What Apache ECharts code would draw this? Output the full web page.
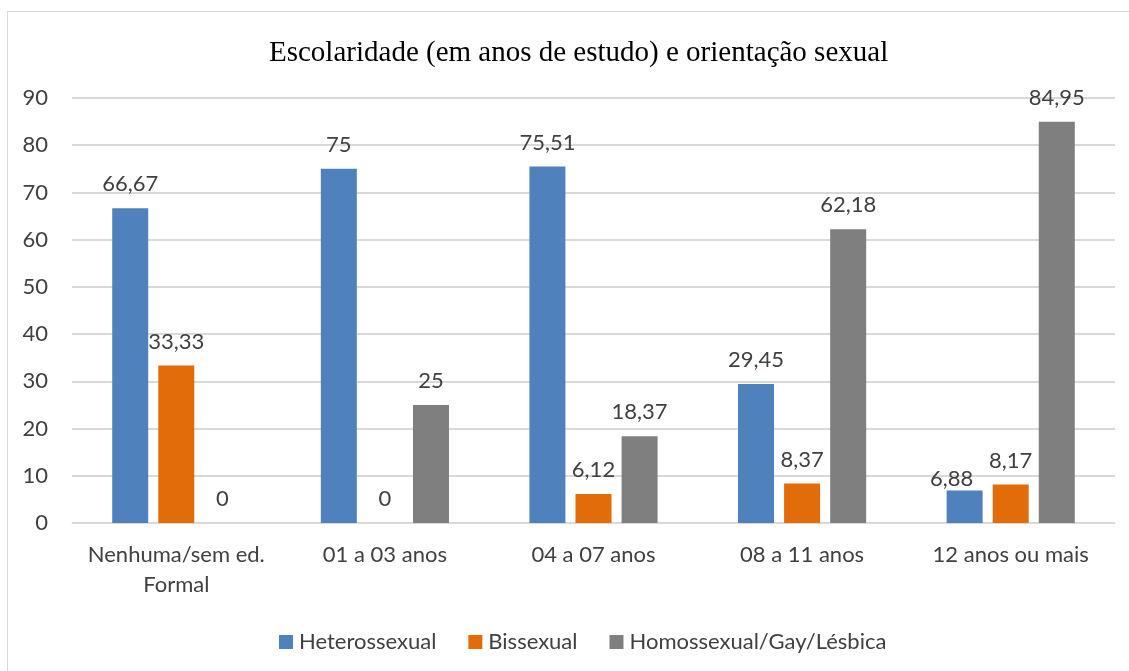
<!DOCTYPE html>
<html>
<head>
<meta charset="utf-8">
<script src="https://cdn.jsdelivr.net/npm/echarts@6/dist/echarts.min.js"></script>
<style>
  html, body { margin: 0; padding: 0; background: #fff; }
  #frame { position: absolute; left: 7px; top: 11px; width: 1140px; height: 680px; border: 1px solid #d9d9d9; }
  #main { position: absolute; left: 0; top: 0; width: 1129px; height: 671px; }
</style>
</head>
<body>
<div id="frame"></div>
<div id="main"></div>
<script>
  // categorias (escolaridade)
  var categories = ["Nenhuma/sem ed.\nFormal", "01 a 03 anos", "04 a 07 anos", "08 a 11 anos", "12 anos ou mais"];
  var hetero = [66.67, 75, 75.51, 29.45, 6.88];
  var bissexual = [33.33, 0, 6.12, 8.37, 8.17];
  var homo = [0, 25, 18.37, 62.18, 84.95];
  var yTicks = [0, 10, 20, 30, 40, 50, 60, 70, 80, 90];

  var sansFont = "Lato";
  var fs = 22;
  var textColor = "#404040";

  function fmt(v) {
    return String(v).replace(".", ",");
  }

  function makeSeries(name, data, color) {
    return {
      name: name,
      type: "bar",
      data: data,
      barWidth: 36,
      barGap: "28%",
      itemStyle: { color: color },
      label: {
        show: true,
        position: "top",
        distance: 13,
        color: textColor,
        fontFamily: sansFont,
        fontSize: fs,
        formatter: function (p) { return fmt(p.value); }
      }
    };
  }

  var heteroSeries = makeSeries("Heterossexual", hetero, "#4f81bd");
  // rótulo do último grupo deslocado para não colidir com o vizinho
  heteroSeries.data = hetero.map(function (v, i) {
    return i === hetero.length - 1 ? { value: v, label: { offset: [-13, 12] } } : v;
  });

  var myChart = echarts.init(document.getElementById("main"), null, { renderer: "canvas" });
  var option = {
    animation: false,
    title: {
      text: "Escolaridade (em anos de estudo) e orientação sexual",
      left: 264,
      top: 34,
      textStyle: {
        fontFamily: "Liberation Serif",
        fontWeight: "normal",
        fontSize: 29,
        color: "#000"
      }
    },
    legend: {
      left: 274,
      top: 626,
      itemWidth: 14,
      itemHeight: 14,
      itemGap: 32,
      icon: "rect",
      textStyle: { color: textColor, fontFamily: sansFont, fontSize: fs, padding: [0, 0, 0, 1] },
      data: ["Heterossexual", "Bissexual", "Homossexual/Gay/Lésbica"]
    },
    grid: { left: 72, right: 14, top: 98, bottom: 148, containLabel: false },
    xAxis: {
      type: "category",
      data: categories,
      axisLine: { show: true, lineStyle: { color: "#d9d9d9", width: 1 } },
      axisTick: { show: false },
      axisLabel: {
        color: textColor,
        fontFamily: sansFont,
        fontSize: fs,
        margin: 17,
        lineHeight: 30,
        interval: 0
      }
    },
    yAxis: {
      type: "value",
      min: yTicks[0],
      max: yTicks[yTicks.length - 1],
      interval: 10,
      axisLine: { show: false },
      axisTick: { show: false },
      axisLabel: {
        color: textColor,
        fontFamily: sansFont,
        fontSize: fs,
        margin: 24
      },
      splitLine: { lineStyle: { color: "#d9d9d9", width: 2 } }
    },
    series: [
      heteroSeries,
      makeSeries("Bissexual", bissexual, "#e36c0a"),
      makeSeries("Homossexual/Gay/Lésbica", homo, "#7f7f7f")
    ]
  };
  myChart.setOption(option);
</script>
</body>
</html>
